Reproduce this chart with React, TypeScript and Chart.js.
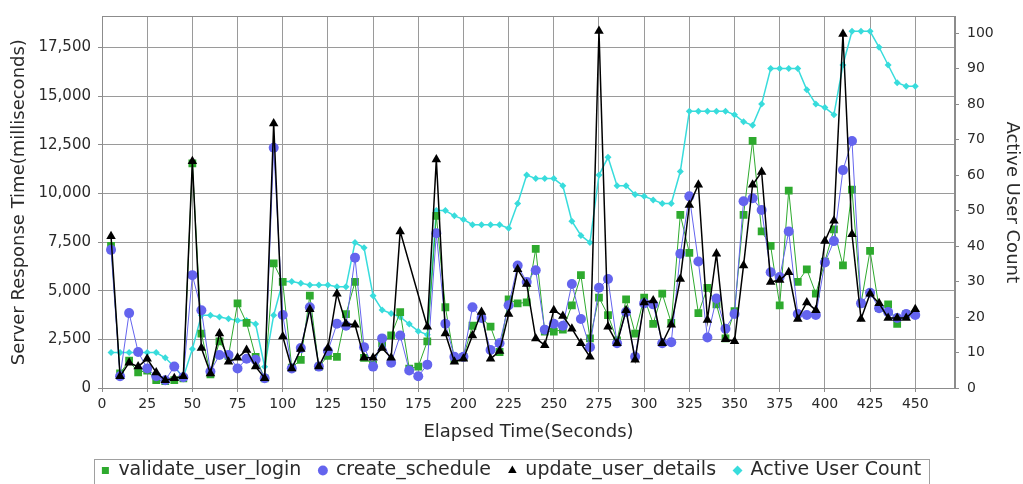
import React, { useEffect, useRef } from "react";
import { Chart, registerables } from "chart.js";

Chart.register(...registerables);

// Elapsed time (seconds) of each sample
const elapsedSeconds = [
  5, 10, 15, 20, 25, 30, 35, 40, 45, 50, 55, 60, 65, 70, 75, 80, 85, 90, 95, 100,
  105, 110, 115, 120, 125, 130, 135, 140, 145, 150, 155, 160, 165, 170, 175, 180, 185, 190, 195, 200,
  205, 210, 215, 220, 225, 230, 235, 240, 245, 250, 255, 260, 265, 270, 275, 280, 285, 290, 295, 300,
  305, 310, 315, 320, 325, 330, 335, 340, 345, 350, 355, 360, 365, 370, 375, 380, 385, 390, 395, 400,
  405, 410, 415, 420, 425, 430, 435, 440, 445, 450,
];

// Server response time (ms)
const validateUserLogin = [
  7300, 750, 1400, 800, 900, 400, 350, 400, 500, 11550, 2800, 700, 2400, 1650, 4350, 3350, 1600, 500, 6400, 5450,
  1050, 1450, 4750, 1100, 1650, 1600, 3800, 5450, 1550, 1200, 2300, 2700, 3900, 1000, 1100, 2400, 8850, 4150, 1500, 1600,
  3200, 3600, 3150, 1850, 4550, 4350, 4400, 7150, 2900, 2900, 3000, 4250, 5800, 2550, 4650, 3750, 2450, 4550, 2800, 4650,
  3300, 4850, 3350, 8900, 6950, 3850, 5150, 4300, 2550, 3950, 8900, 12700, 8050, 7300, 4250, 10150, 5450, 6100, 4850, 6500,
  8150, 6300, 10200, 4350, 7050, 4100, 4300, 3300, 3800, 3800,
];

const createSchedule = [
  7100, 600, 3850, 1850, 1000, 600, 400, 1100, 550, 5800, 4000, 850, 1700, 1700, 1000, 1500, 1450, 500, 12350, 3750,
  1000, 2050, 4150, 1100, 1900, 3300, 3200, 6700, 2100, 1100, 2550, 1300, 2700, 900, 600, 1200, 7950, 3300, 1600, 1600,
  4150, 3600, 1950, 2300, 4250, 6300, 5450, 6050, 3000, 3300, 3200, 5350, 3550, 2100, 5150, 5600, 2300, 3900, 1600, 4350,
  4300, 2300, 2350, 6900, 9850, 6500, 2600, 4600, 3050, 3800, 9600, 9750, 9150, 5950, 5700, 8050, 3800, 3750, 3750, 6450,
  7550, 11200, 12700, 4350, 4900, 4100, 3900, 3600, 3800, 3750,
];

const updateUserDetails = [
  7800, 600, 1300, 1100, 1500, 800, 400, 500, 600, 11650, 2050, 750, 2800, 1350, 1550, 1950, 1100, 500, 13600, 2650,
  1000, 2000, 4050, 1100, 2050, 4850, 3300, 3250, 1550, 1550, 2050, 1550, 8050, null, null, 3150, 11750, 2800, 1350, 1500,
  2700, 3900, 1500, 1900, 3800, 6100, 5350, 2550, 2200, 4000, 3700, 3050, 2300, 1600, 18350, 3150, 2300, 4000, 1450, 4400,
  4500, 2300, 3250, 5600, 9400, 10450, 3500, 6900, 2500, 2400, 6300, 10450, 11100, 5450, 5550, 5950, 3550, 4400, 4000, 7550,
  8600, 18200, 7900, 3550, 4850, 4350, 3600, 3600, 3600, 4050,
];

// Active users
const activeUserCount = [
  10, 10, 10, 10, 10, 10, 8.5, 6, 3, 11, 20.5, 20.5, 20, 19.5, 19, 19, 18, 6, 20.5, 30,
  30, 29.5, 29, 29, 29, 28.5, 28.5, 41, 39.5, 26, 22, 21, 20, 18, 16, 15, 50, 50, 48.5, 47.5,
  46, 46, 46, 46, 45, 52, 60, 59, 59, 59, 57, 47, 43, 41, 60, 65, 57, 57, 54.5, 54,
  53, 52, 52, 61, 78, 78, 78, 78, 78, 77, 75, 74, 80, 90, 90, 90, 90, 84, 80, 79,
  77, 91, 100.5, 100.5, 100.5, 96, 91, 86, 85, 85,
];

// Axis tick values
const xTicks = [0, 25, 50, 75, 100, 125, 150, 175, 200, 225, 250, 275, 300, 325, 350, 375, 400, 425, 450];
const responseTicks = [0, 2500, 5000, 7500, 10000, 12500, 15000, 17500];
const userTicks = [0, 10, 20, 30, 40, 50, 60, 70, 80, 90, 100];

const GREEN = "#2eaa2e";
const BLUE = "#6464ee";
const BLACK = "#000000";
const CYAN = "#38dcdc";
const GRID = "#9a9a9a";
const TEXT = "#2a2a2a";
const FONT = "DejaVu Sans";

const framePlugin = {
  id: "frameAndLegendBox",
  afterDraw(chart: any) {
    const { ctx, chartArea } = chart;
    ctx.save();
    ctx.strokeStyle = "#8c8c8c";
    ctx.lineWidth = 1;
    ctx.setLineDash([]);
    ctx.strokeRect(
      Math.round(chartArea.left) + 0.5,
      Math.round(chartArea.top) + 0.5,
      Math.round(chartArea.right - chartArea.left) - 1,
      Math.round(chartArea.bottom - chartArea.top)
    );
    const boxes = chart.legend && chart.legend.legendHitBoxes;
    if (boxes && boxes.length) {
      const l = Math.min(...boxes.map((b: any) => b.left)) - 8;
      const r = Math.max(...boxes.map((b: any) => b.left + b.width)) + 8;
      const t = boxes[0].top - 2;
      ctx.strokeStyle = "#a0a0a0";
      ctx.strokeRect(Math.round(l) + 0.5, Math.round(t) + 0.5, Math.round(r - l), 40);
    }
    ctx.restore();
  },
};

export default function App() {
  const ref = useRef<HTMLCanvasElement>(null);

  useEffect(() => {
    document.body.style.margin = "0";
    const canvas = ref.current;
    if (!canvas) return;
    const pts = (vals: (number | null)[]) =>
      elapsedSeconds.map((t, i) => ({ x: t, y: vals[i] }));
    const fixTicks = (values: number[]) => (s: any) => {
      s.ticks = values.map((v) => ({ value: v }));
    };

    const tickFont = { family: FONT, size: 14 };
    const leftTickFont = { family: FONT, size: 15 };
    const titleFont = { family: FONT, size: 18 };
    const gridCfg = {
      color: GRID,
      borderDash: [3, 2],
      tickBorderDash: [],
      tickLength: 4,
      tickColor: "#8c8c8c",
    };

    const chart = new Chart(canvas, {
      type: "line",
      data: {
        datasets: [
          {
            label: "validate_user_login",
            data: pts(validateUserLogin),
            yAxisID: "y",
            borderColor: GREEN,
            backgroundColor: GREEN,
            borderWidth: 1,
            pointStyle: "rect",
            pointRadius: 5.5,
            pointBorderWidth: 0,
            order: 3,
          },
          {
            label: "create_schedule",
            data: pts(createSchedule),
            yAxisID: "y",
            borderColor: BLUE,
            backgroundColor: BLUE,
            borderWidth: 1,
            pointStyle: "circle",
            pointRadius: 5,
            pointBorderWidth: 0,
            order: 2,
          },
          {
            label: "update_user_details",
            data: pts(updateUserDetails),
            yAxisID: "y",
            borderColor: BLACK,
            backgroundColor: BLACK,
            borderWidth: 1.5,
            pointStyle: "triangle",
            pointRadius: 5.5,
            pointBorderWidth: 0,
            order: 1,
          },
          {
            label: "Active User Count",
            data: pts(activeUserCount),
            yAxisID: "y1",
            borderColor: CYAN,
            backgroundColor: CYAN,
            borderWidth: 1.5,
            pointStyle: "rectRot",
            pointRadius: 3.5,
            pointBorderWidth: 0,
            order: 4,
          },
        ],
      },
      options: {
        responsive: false,
        animation: false,
        spanGaps: true,
        layout: { autoPadding: false, padding: { top: 13, bottom: -6, left: 0, right: 0 } },
        plugins: {
          tooltip: { enabled: false },
          legend: {
            position: "bottom",
            labels: {
              usePointStyle: true,
              boxWidth: 7,
              boxHeight: 7,
              padding: 18,
              color: TEXT,
              font: { family: FONT, size: 19 },
              sort: (a: any, b: any) => a.datasetIndex - b.datasetIndex,
            },
          },
        },
        scales: {
          x: {
            type: "linear",
            min: 0,
            max: 472,
            afterBuildTicks: fixTicks(xTicks),
            ticks: {
              autoSkip: false,
              maxRotation: 0,
              color: TEXT,
              font: tickFont,
              padding: 4,
            },
            grid: gridCfg,
            border: { color: "#8c8c8c" },
            title: {
              display: true,
              text: "Elapsed Time(Seconds)",
              color: TEXT,
              font: titleFont,
              padding: { top: 4, bottom: 0 },
            },
            afterFit(s: any) {
              const lh = s.chart.legend ? s.chart.legend.height : 47;
              s.height = 490 - 388 - lh;
            },
          },
          y: {
            type: "linear",
            position: "left",
            min: 0,
            max: 19100,
            afterBuildTicks: fixTicks(responseTicks),
            ticks: {
              autoSkip: false,
              color: TEXT,
              font: leftTickFont,
              padding: 7,
              callback: (v: any) => Number(v).toLocaleString("en-US"),
            },
            grid: gridCfg,
            border: { color: "#8c8c8c" },
            title: {
              display: true,
              text: "Server Response Time(milliseconds)",
              color: TEXT,
              font: titleFont,
              padding: { top: 9, bottom: 0 },
            },
            afterFit(s: any) {
              s.width = 102;
            },
          },
          y1: {
            type: "linear",
            position: "right",
            min: 0,
            max: 104.7,
            afterBuildTicks: fixTicks(userTicks),
            ticks: {
              autoSkip: false,
              color: TEXT,
              font: tickFont,
              padding: 8,
            },
            grid: { ...gridCfg, drawOnChartArea: false },
            border: { color: "#8c8c8c" },
            title: {
              display: true,
              text: "Active User Count",
              color: TEXT,
              font: titleFont,
              padding: { top: 1, bottom: 0 },
            },
            afterFit(s: any) {
              s.width = 68;
            },
          },
        },
      },
      plugins: [framePlugin],
    } as any);

    return () => chart.destroy();
  }, []);

  return (
    <div style={{ width: 1023, height: 484, background: "#ffffff" }}>
      <canvas ref={ref} width={1023} height={484} style={{ display: "block" }} />
    </div>
  );
}
